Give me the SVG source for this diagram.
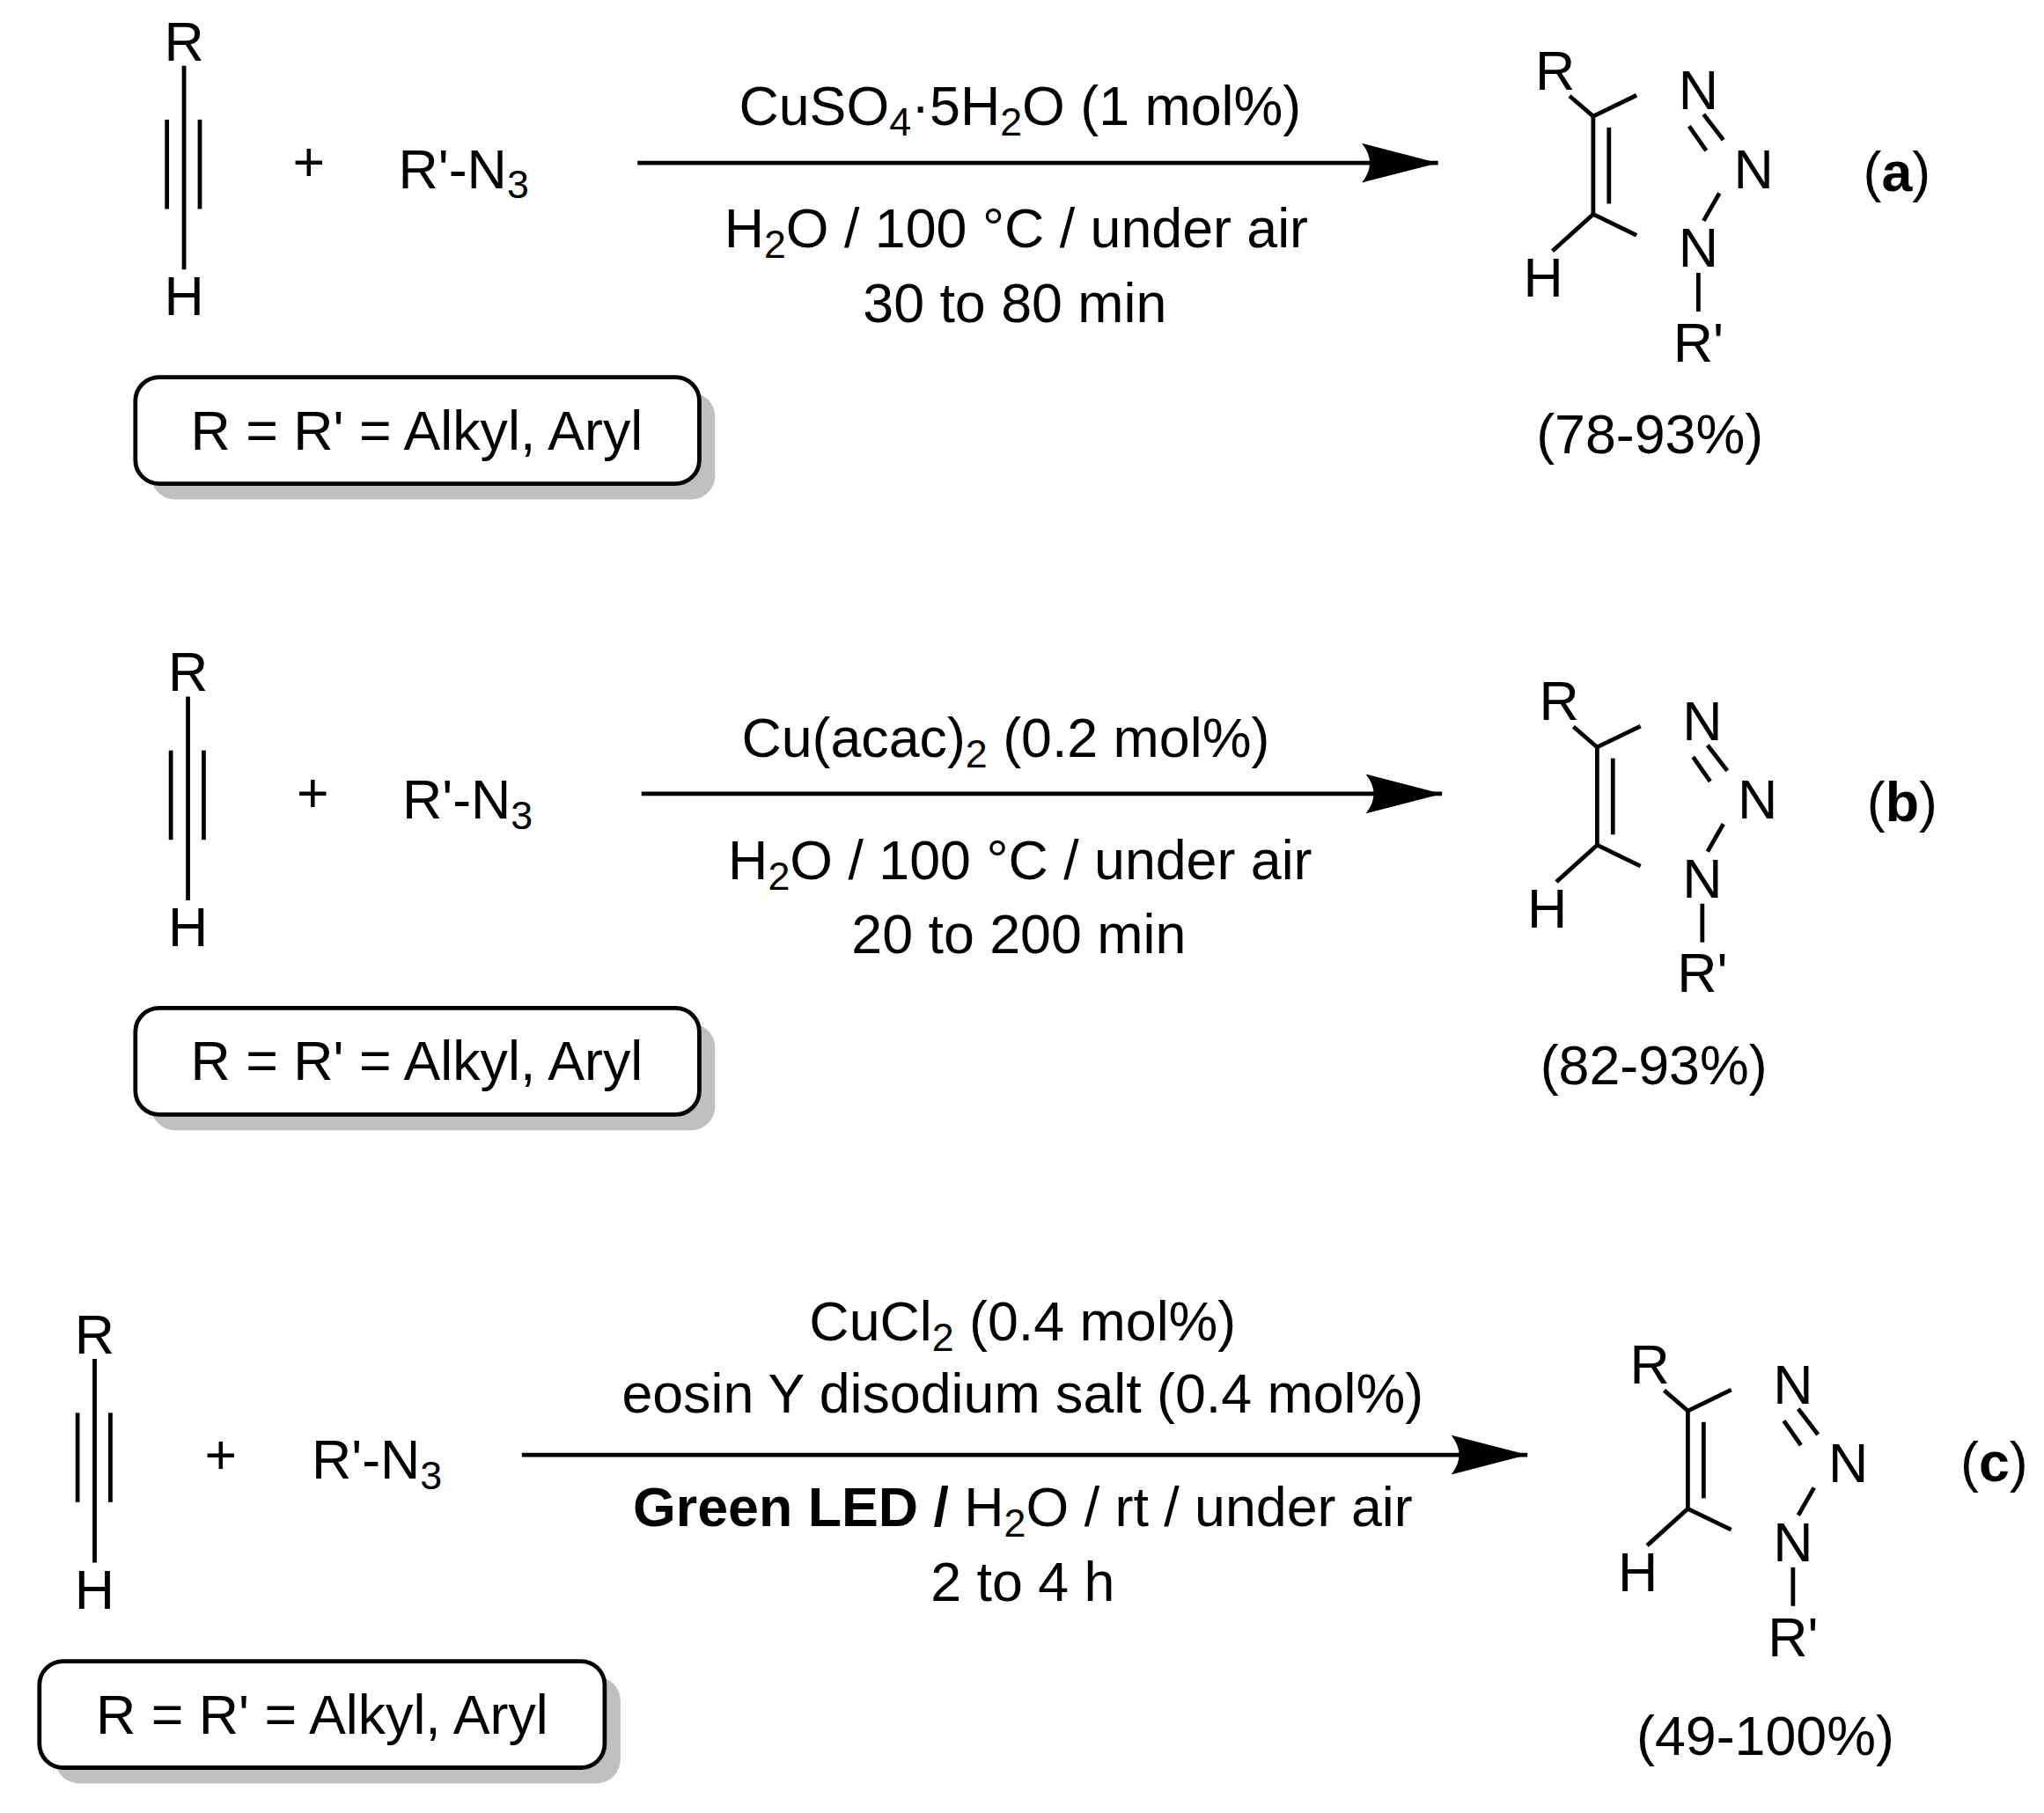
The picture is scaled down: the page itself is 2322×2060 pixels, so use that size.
<svg xmlns="http://www.w3.org/2000/svg" xmlns:xlink="http://www.w3.org/1999/xlink" width="2322" height="2060" viewBox="0 0 2322 2060">
<style>
text{font-family:"Liberation Sans",Arial,sans-serif;font-size:42px;fill:#000}
.c{text-anchor:middle}
.sub{font-size:30px}
line,path.b{stroke:#000;stroke-width:3.2;fill:none}
.box{fill:#fff;stroke:#000;stroke-width:3.2}
.sh{fill:#c0c0c0}
</style>
<defs>
<marker id="ah" markerWidth="60" markerHeight="30" refX="58" refY="15" orient="auto" markerUnits="userSpaceOnUse"><path d="M0,0 L58,15 L0,30 Q12,15 0,0 Z" fill="#000"/></marker>
<g id="alk">
<text x="140" y="46" class="c">R</text>
<line x1="140" y1="50" x2="140" y2="205"/>
<line x1="127" y1="91" x2="127" y2="159"/>
<line x1="152" y1="91" x2="152" y2="159"/>
<text x="140" y="240" class="c">H</text>
</g>
<g id="tri">
<text x="1183" y="68" class="c">R</text>
<text x="1292" y="83" class="c">N</text>
<text x="1334" y="143" class="c">N</text>
<text x="1292" y="203" class="c">N</text>
<text x="1174" y="226" class="c">H</text>
<text x="1292" y="275" class="c">R'</text>
<line x1="1194" y1="73" x2="1212" y2="88.5"/>
<line x1="1212" y1="88.5" x2="1245" y2="72.5"/>
<line x1="1212" y1="88.5" x2="1212" y2="163"/>
<line x1="1224" y1="97" x2="1224" y2="155"/>
<line x1="1212" y1="163" x2="1245" y2="179"/>
<line x1="1181" y1="191" x2="1212" y2="163"/>
<line x1="1296" y1="87" x2="1311" y2="106.5"/>
<line x1="1285" y1="96" x2="1298" y2="114.6"/>
<line x1="1308" y1="147" x2="1296" y2="168"/>
<line x1="1292" y1="207.6" x2="1292" y2="237"/>
</g>
</defs>
<g transform="scale(1.4933)">
<g id="connectors">
<line x1="485" y1="124" x2="1094" y2="124" marker-end="url(#ah)"/>
<line x1="488" y1="604" x2="1097" y2="604" marker-end="url(#ah)"/>
<line x1="397" y1="1107" x2="1162" y2="1107" marker-end="url(#ah)"/>
</g>
<g id="schemeA">
<use xlink:href="#alk"/>
<text x="235" y="138" class="c">+</text>
<text x="303" y="143">R'-N<tspan class="sub" dy="8">3</tspan></text>
<text x="776" y="95" class="c">CuSO<tspan class="sub" dy="8">4</tspan><tspan dy="-8">·5H</tspan><tspan class="sub" dy="8">2</tspan><tspan dy="-8">O (1 mol%)</tspan></text>
<text x="773" y="188" class="c">H<tspan class="sub" dy="8">2</tspan><tspan dy="-8">O / 100 °C / under air</tspan></text>
<text x="772" y="245" class="c">30 to 80 min</text>
<rect class="sh" x="115" y="299" width="429" height="81" rx="18"/>
<rect class="box" x="103" y="287" width="429" height="81" rx="18"/>
<text x="317" y="342" class="c">R = R' = Alkyl, Aryl</text>
<use xlink:href="#tri"/>
<text x="1443" y="145" class="c">(<tspan font-weight="bold">a</tspan>)</text>
<text x="1255" y="345" class="c">(78-93%)</text>
</g>
<g id="schemeB">
<use xlink:href="#alk" transform="translate(3,480)"/>
<text x="238" y="618" class="c">+</text>
<text x="306" y="623">R'-N<tspan class="sub" dy="8">3</tspan></text>
<text x="765" y="576" class="c">Cu(acac)<tspan class="sub" dy="8">2</tspan><tspan dy="-8"> (0.2 mol%)</tspan></text>
<text x="776" y="669" class="c">H<tspan class="sub" dy="8">2</tspan><tspan dy="-8">O / 100 °C / under air</tspan></text>
<text x="775" y="725" class="c">20 to 200 min</text>
<rect class="sh" x="115" y="779" width="429" height="81" rx="18"/>
<rect class="box" x="103" y="767" width="429" height="81" rx="18"/>
<text x="317" y="822" class="c">R = R' = Alkyl, Aryl</text>
<use xlink:href="#tri" transform="translate(3,480)"/>
<text x="1447" y="625" class="c">(<tspan font-weight="bold">b</tspan>)</text>
<text x="1258" y="825" class="c">(82-93%)</text>
</g>
<g id="schemeC">
<use xlink:href="#alk" transform="translate(-68,984)"/>
<text x="168" y="1122" class="c">+</text>
<text x="237" y="1125">R'-N<tspan class="sub" dy="8">3</tspan></text>
<text x="778" y="1020" class="c">CuCl<tspan class="sub" dy="8">2</tspan><tspan dy="-8"> (0.4 mol%)</tspan></text>
<text x="778" y="1075" class="c">eosin Y disodium salt (0.4 mol%)</text>
<text x="778" y="1161" class="c"><tspan font-weight="bold">Green LED /</tspan> H<tspan class="sub" dy="8">2</tspan><tspan dy="-8">O / rt / under air</tspan></text>
<text x="778" y="1218" class="c">2 to 4 h</text>
<rect class="sh" x="42" y="1276" width="430" height="81" rx="18"/>
<rect class="box" x="30" y="1264" width="430" height="81" rx="18"/>
<text x="245" y="1319" class="c">R = R' = Alkyl, Aryl</text>
<use xlink:href="#tri" transform="translate(72,985)"/>
<text x="1517" y="1127" class="c">(<tspan font-weight="bold">c</tspan>)</text>
<text x="1343" y="1335" class="c">(49-100%)</text>
</g>
</g>
</svg>
